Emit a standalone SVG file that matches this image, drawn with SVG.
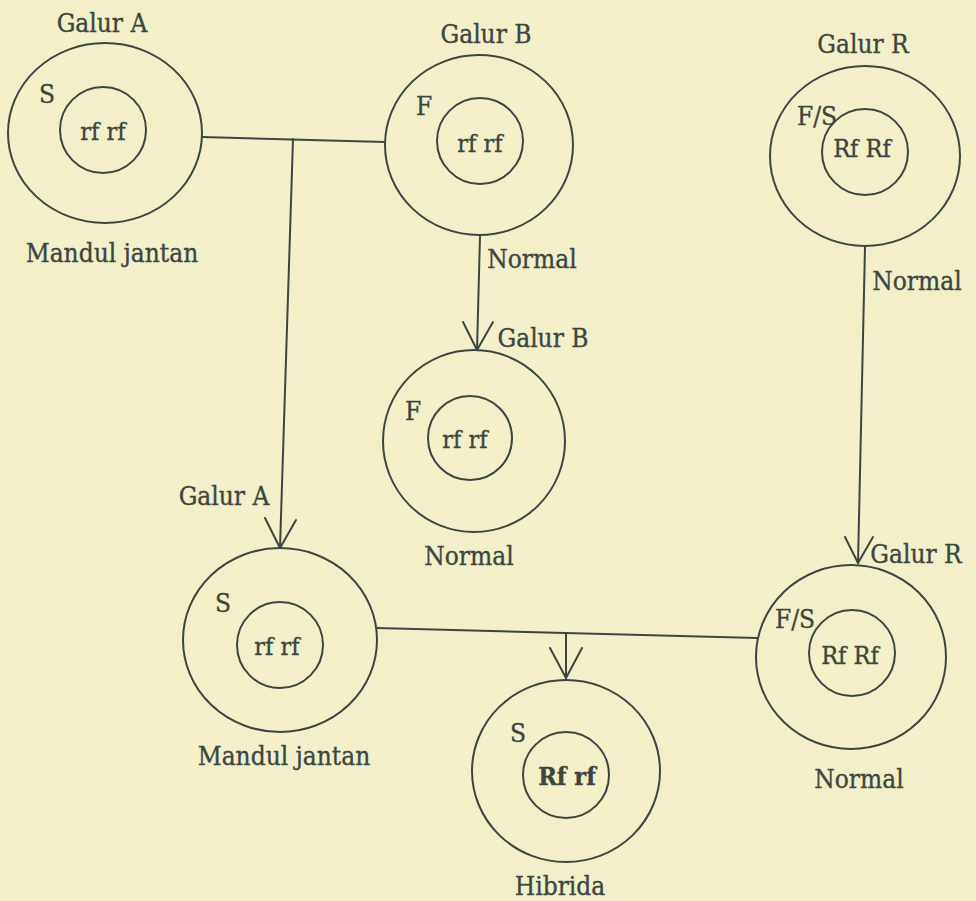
<svg xmlns="http://www.w3.org/2000/svg" width="976" height="901" viewBox="0 0 976 901">
<style>
.bg{fill:#f3f0c9}
.c{fill:none;stroke:#3b4643;stroke-width:2}
.l{fill:none;stroke:#3b4643;stroke-width:2;stroke-linecap:round;stroke-linejoin:round}
text{font-family:"DejaVu Serif Condensed","DejaVu Serif","Liberation Serif",serif;font-stretch:condensed;font-size:26px;fill:#3b4643;stroke:#3b4643;stroke-width:0.35;text-anchor:middle}
.i{font-size:25px}
.b{font-weight:bold}
</style>
<rect class="bg" x="0" y="0" width="976" height="901"/>
<g id="connectors">
<polyline class="l" points="202,137 385,142"/>
<polyline class="l" points="293,139 280,548"/>
<polyline class="l" points="265,518 280,548 296,520"/>
<polyline class="l" points="480,236 477,350"/>
<polyline class="l" points="463,322 477,350 493,322"/>
<polyline class="l" points="865,247 858,563"/>
<polyline class="l" points="845,537 858,563 873,537"/>
<polyline class="l" points="377,628 757,638"/>
<polyline class="l" points="566,633 566,678"/>
<polyline class="l" points="550,648 566,678 582,648"/>
</g>
<g id="galurA">
<ellipse class="c" cx="105" cy="133" rx="97" ry="90"/>
<circle class="c" cx="103" cy="130" r="43"/>
<text x="102" y="32">Galur A</text>
<text x="47" y="103">S</text>
<text class="i" x="103" y="140">rf rf</text>
<text x="112" y="262">Mandul jantan</text>
</g>
<g id="galurB">
<ellipse class="c" cx="479" cy="145" rx="94" ry="90"/>
<circle class="c" cx="480" cy="141" r="43"/>
<text x="486" y="43">Galur B</text>
<text x="424" y="115">F</text>
<text class="i" x="480" y="152">rf rf</text>
<text x="532" y="268">Normal</text>
</g>
<g id="galurR">
<ellipse class="c" cx="865" cy="156" rx="95" ry="90"/>
<circle class="c" cx="865" cy="152" r="43"/>
<text x="863" y="53">Galur R</text>
<text x="817" y="125">F/S</text>
<text class="i" x="862" y="157">Rf Rf</text>
<text x="917" y="290">Normal</text>
</g>
<g id="galurB2">
<ellipse class="c" cx="474" cy="441" rx="91" ry="91"/>
<circle class="c" cx="470" cy="438" r="42"/>
<text x="543" y="347">Galur B</text>
<text x="413" y="420">F</text>
<text class="i" x="465" y="448">rf rf</text>
<text x="469" y="565">Normal</text>
</g>
<g id="galurA2">
<ellipse class="c" cx="280" cy="640" rx="97" ry="92"/>
<circle class="c" cx="280" cy="645" r="43"/>
<text x="224" y="505">Galur A</text>
<text x="223" y="612">S</text>
<text class="i" x="277" y="655">rf rf</text>
<text x="284" y="765">Mandul jantan</text>
</g>
<g id="galurR2">
<ellipse class="c" cx="851" cy="657" rx="95" ry="92"/>
<circle class="c" cx="852" cy="653" r="43"/>
<text x="916" y="563">Galur R</text>
<text x="795" y="628">F/S</text>
<text class="i" x="850" y="664">Rf Rf</text>
<text x="859" y="788">Normal</text>
</g>
<g id="hibrida">
<ellipse class="c" cx="566" cy="771" rx="94" ry="91"/>
<circle class="c" cx="566" cy="775" r="43"/>
<text x="518" y="742">S</text>
<text class="i b" x="567" y="785">Rf rf</text>
<text x="560" y="895">Hibrida</text>
</g>
</svg>
